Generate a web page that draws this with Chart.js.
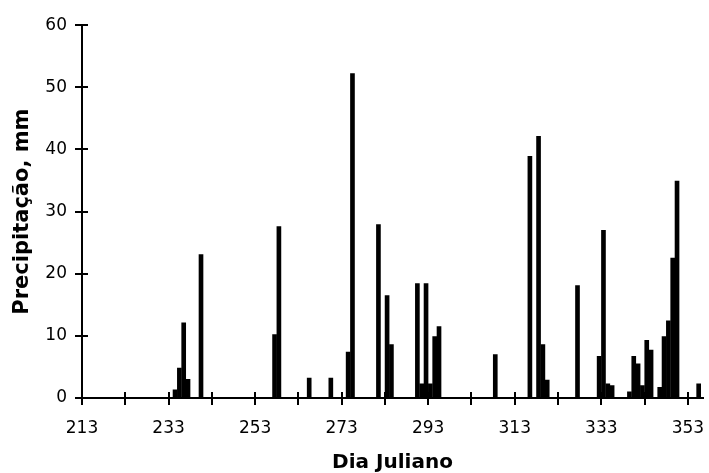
<!DOCTYPE html>
<html>
<head>
    <title>Precipitação</title>
    <script src="https://cdn.jsdelivr.net/npm/chart.js"></script>
    <style>
        body { margin: 0; background: #fff; }
        #wrap { width: 709px; height: 473px; }
    </style>
</head>
<body>
    <div id="wrap"><canvas id="chart"></canvas></div>
    <script>
        // dias julianos com chuva e precipitação (mm)
        const days = [234, 235, 236, 237, 240, 257, 258, 265, 270, 274, 275, 281, 283, 284,
            290, 291, 292, 293, 294, 295, 308, 316, 318, 319, 320, 327, 332, 333, 334, 335,
            339, 340, 341, 342, 343, 344, 346, 347, 348, 349, 350, 355];
        const rain = [1.3, 4.8, 12.1, 3.0, 23.1, 10.2, 27.6, 3.2, 3.2, 7.4, 52.2, 27.9, 16.5, 8.6,
            18.4, 2.3, 18.4, 2.3, 9.9, 11.5, 7.0, 38.9, 42.1, 8.6, 2.9, 18.1, 6.7, 27.0, 2.3, 2.0,
            1.0, 6.7, 5.5, 2.0, 9.3, 7.7, 1.7, 9.9, 12.4, 22.5, 34.9, 2.3];

        const xTicks = [213, 223, 233, 243, 253, 263, 273, 283, 293, 303, 313, 323, 333, 343, 353];
        const xLabels = [213, 233, 253, 273, 293, 313, 333, 353];
        const yTicks = [0, 10, 20, 30, 40, 50, 60];

        Chart.defaults.font.family = "'DejaVu Sans'";
        Chart.defaults.color = '#000';

        // tick marks crossing the axis lines, like the original
        const crossTicks = {
            id: 'crossTicks',
            afterDatasetsDraw(chart) {
                const {ctx, chartArea, scales: {x, y}} = chart;
                ctx.save();
                ctx.strokeStyle = '#000';
                ctx.lineWidth = 2;
                ctx.beginPath();
                x.ticks.forEach(t => {
                    const px = Math.round(x.getPixelForValue(t.value));
                    ctx.moveTo(px, chartArea.bottom - 6);
                    ctx.lineTo(px, chartArea.bottom + 7);
                });
                y.ticks.forEach(t => {
                    const py = Math.round(y.getPixelForValue(t.value));
                    ctx.moveTo(chartArea.left - 7, py);
                    ctx.lineTo(chartArea.left + 6, py);
                });
                ctx.stroke();
                ctx.restore();
            }
        };

        new Chart(document.getElementById('chart'), {
            type: 'bar',
            data: {
                datasets: [{
                    label: 'Precipitação',
                    data: days.map((d, i) => ({x: d + 0.5, y: rain[i]})),
                    backgroundColor: '#000',
                    borderWidth: 0,
                    barThickness: 4
                }]
            },
            options: {
                responsive: true,
                maintainAspectRatio: false,
                animation: false,
                layout: { padding: { top: 19, right: 6, left: 0, bottom: 0 } },
                plugins: { legend: { display: false }, tooltip: { enabled: false } },
                scales: {
                    x: {
                        type: 'linear',
                        offset: false,
                        min: 213,
                        max: 356.5,
                        afterBuildTicks: s => { s.ticks = xTicks.map(v => ({value: v})); },
                        afterFit: s => {
                            s.height = 75;
                            s.paddingLeft = 0;
                            s.paddingRight = 0;
                        },
                        grid: { display: false, drawTicks: false, offset: false },
                        border: { display: true, color: '#000', width: 2 },
                        ticks: {
                            autoSkip: false,
                            maxRotation: 0,
                            padding: 20,
                            font: { size: 17 },
                            callback: v => xLabels.includes(v) ? String(v) : ''
                        },
                        title: {
                            display: true,
                            text: 'Dia Juliano',
                            font: { size: 20, weight: 'bold', lineHeight: 1 },
                            padding: 0
                        }
                    },
                    y: {
                        min: 0,
                        max: 60,
                        afterBuildTicks: s => { s.ticks = yTicks.map(v => ({value: v})); },
                        afterFit: s => { s.width = 82; },
                        grid: { display: false, drawTicks: false },
                        border: { display: true, color: '#000', width: 2 },
                        ticks: { padding: 15, font: { size: 17 } },
                        title: {
                            display: true,
                            text: 'Precipitação, mm',
                            font: { size: 21, weight: 'bold', lineHeight: 1 },
                            padding: { top: 12, bottom: 0 }
                        }
                    }
                }
            },
            plugins: [crossTicks]
        });
    </script>
</body>
</html>
